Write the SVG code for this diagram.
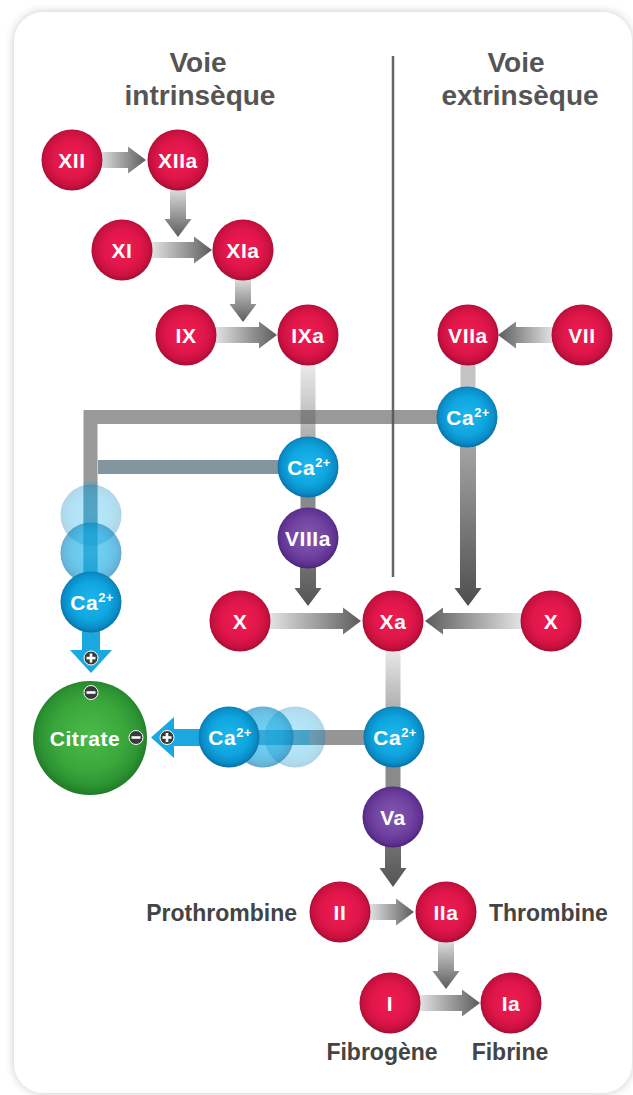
<svg xmlns="http://www.w3.org/2000/svg" width="633" height="1095" viewBox="0 0 633 1095">
  <style>
    .lbl { font-family: "Liberation Sans", Arial, sans-serif; font-weight: bold; font-size: 21px; fill: #ffffff; text-anchor: middle; letter-spacing: 0.6px; }
    .sup { font-size: 13px; letter-spacing: 0.3px; }
    .cap { font-family: "Liberation Sans", Arial, sans-serif; font-weight: bold; font-size: 23px; fill: #444444; }
    .title { font-family: "Liberation Sans", Arial, sans-serif; font-weight: bold; font-size: 28px; fill: #555555; text-anchor: middle; }
    .red { fill: url(#gRed); }
    .blue { fill: url(#gBlue); }
    .purple { fill: url(#gPurple); }
    .badge { fill: #3a3a3a; stroke: #ffffff; stroke-width: 1; }
    .sign { fill: #ffffff; }
  </style>
  <defs>
    <filter id="cardShadow" x="-10%" y="-10%" width="120%" height="120%">
      <feDropShadow dx="0" dy="0" stdDeviation="5" flood-color="#000000" flood-opacity="0.22"/>
    </filter>
    <radialGradient id="gRed" cx="50%" cy="48%" r="52%">
      <stop offset="0" stop-color="#ee1c4f"/>
      <stop offset="0.6" stop-color="#e0164a"/>
      <stop offset="0.86" stop-color="#c8113f"/>
      <stop offset="1" stop-color="#a30d33"/>
    </radialGradient>
    <radialGradient id="gBlue" cx="50%" cy="48%" r="52%">
      <stop offset="0" stop-color="#20b6ec"/>
      <stop offset="0.6" stop-color="#0ea6e0"/>
      <stop offset="0.86" stop-color="#0a8dc7"/>
      <stop offset="1" stop-color="#0870a4"/>
    </radialGradient>
    <radialGradient id="gPurple" cx="50%" cy="48%" r="52%">
      <stop offset="0" stop-color="#8458ae"/>
      <stop offset="0.6" stop-color="#7043a1"/>
      <stop offset="0.86" stop-color="#603393"/>
      <stop offset="1" stop-color="#4b2378"/>
    </radialGradient>
    <radialGradient id="gGreen" cx="50%" cy="48%" r="52%">
      <stop offset="0" stop-color="#4cba4a"/>
      <stop offset="0.6" stop-color="#3aa73c"/>
      <stop offset="0.86" stop-color="#2c9232"/>
      <stop offset="1" stop-color="#1f7a28"/>
    </radialGradient>
    <!-- arrow fills: light at the source, dark at the head -->
    <linearGradient id="aRight" x1="0" y1="0" x2="1" y2="0">
      <stop offset="0" stop-color="#e6e6e6"/>
      <stop offset="1" stop-color="#5c5c5c"/>
    </linearGradient>
    <linearGradient id="aLeft" x1="1" y1="0" x2="0" y2="0">
      <stop offset="0" stop-color="#e6e6e6"/>
      <stop offset="1" stop-color="#5c5c5c"/>
    </linearGradient>
    <linearGradient id="aDown" x1="0" y1="0" x2="0" y2="1">
      <stop offset="0" stop-color="#e0e0e0"/>
      <stop offset="1" stop-color="#5c5c5c"/>
    </linearGradient>
    <linearGradient id="aDownDark" x1="0" y1="0" x2="0" y2="1">
      <stop offset="0" stop-color="#707070"/>
      <stop offset="1" stop-color="#545454"/>
    </linearGradient>
    <linearGradient id="aDownMid" x1="0" y1="0" x2="0" y2="1">
      <stop offset="0" stop-color="#a4a4a4"/>
      <stop offset="1" stop-color="#4e4e4e"/>
    </linearGradient>
    <linearGradient id="barLight" x1="0" y1="0" x2="0" y2="1">
      <stop offset="0" stop-color="#eeeeee"/>
      <stop offset="1" stop-color="#a8a8a8"/>
    </linearGradient>
    <linearGradient id="cyanFade" x1="0" y1="0" x2="0" y2="1">
      <stop offset="0" stop-color="#1ba7e0" stop-opacity="0.25"/>
      <stop offset="1" stop-color="#1ba7e0" stop-opacity="0.85"/>
    </linearGradient>
  </defs>

  <!-- card -->
  <rect x="0" y="0" width="633" height="1095" fill="#ffffff"/>
  <rect x="14" y="12" width="618" height="1081" rx="30" ry="30" fill="#ffffff" filter="url(#cardShadow)"/>

  <!-- headings -->
  <g id="titles">
    <text class="title" x="198" y="72">Voie</text>
    <text class="title" x="200" y="105">intrinsèque</text>
    <text class="title" x="516" y="72">Voie</text>
    <text class="title" x="520" y="105">extrinsèque</text>
  </g>

  <line id="divider" x1="393" y1="56" x2="393" y2="577" stroke="#666666" stroke-width="2.5"/>

  <g id="connectors">
    <!-- plain links between factors and cofactors -->
    <rect x="300.5" y="360" width="15" height="85" fill="url(#barLight)"/>
    <rect x="300.5" y="490" width="15" height="25" fill="#8a8a8a"/>
    <rect x="460.5" y="360" width="15" height="35" fill="#c4c4c4"/>
    <rect x="385.5" y="645" width="15" height="70" fill="url(#barLight)"/>
    <rect x="385.5" y="760" width="15" height="35" fill="#8a8a8a"/>

    <!-- calcium links towards citrate -->
    <rect x="98" y="460" width="210" height="14" fill="#8396a0"/>
    <path d="M467,417 H90.5 V600" fill="none" stroke="#555555" stroke-opacity="0.6" stroke-width="14"/>
    <rect x="83.5" y="482" width="14" height="120" fill="url(#cyanFade)"/>
    <rect x="229" y="730" width="165" height="15" fill="#959595"/>
    <rect x="229" y="730" width="80" height="15" fill="#1ba7e0" fill-opacity="0.45"/>
    <path d="M82,625 V650 H70 L91,673 L112,650 H100 V625 Z" fill="#1ba7e0"/>
    <path d="M229,729 H174 V717 L151,737.5 L174,758 V746 H229 Z" fill="#1ba7e0"/>

    <!-- activation arrows -->
    <path d="M98,152 H128 V146.5 L146,160 L128,173.5 V168 H98 Z" fill="url(#aRight)"/>
    <path d="M170,188 V219 H164.5 L178,237 L191.5,219 H186 V188 Z" fill="url(#aDown)"/>
    <path d="M150,242 H194 V236.5 L212,250 L194,263.5 V258 H150 Z" fill="url(#aRight)"/>
    <path d="M235,278 V304 H229.5 L243,322 L256.5,304 H251 V278 Z" fill="url(#aDown)"/>
    <path d="M214,327 H259 V321.5 L277,335 L259,348.5 V343 H214 Z" fill="url(#aRight)"/>
    <path d="M554,327 H516 V321.5 L498,335 L516,348.5 V343 H554 Z" fill="url(#aLeft)"/>
    <path d="M300,566 V588 H294.5 L308,606 L321.5,588 H316 V566 Z" fill="url(#aDownDark)"/>
    <path d="M460,446 V588 H454.5 L468,606 L481.5,588 H476 V446 Z" fill="url(#aDownMid)"/>
    <path d="M268,613 H343 V607.5 L361,621 L343,634.5 V629 H268 Z" fill="url(#aRight)"/>
    <path d="M523,613 H443 V607.5 L425,621 L443,634.5 V629 H523 Z" fill="url(#aLeft)"/>
    <path d="M385,846 V868 H379.5 L393,887 L406.5,868 H401 V846 Z" fill="url(#aDownDark)"/>
    <path d="M368,904 H396 V898.5 L414,912 L396,925.5 V920 H368 Z" fill="url(#aRight)"/>
    <path d="M438,940 V971 H432.5 L446,989 L459.5,971 H454 V940 Z" fill="url(#aDown)"/>
    <path d="M418,995 H462 V989.5 L480,1003 L462,1016.5 V1011 H418 Z" fill="url(#aRight)"/>
  </g>

  <!-- calcium ions drifting towards citrate -->
  <g id="ca-trail-left">
    <circle cx="91" cy="515" r="30.5" class="blue" opacity="0.32"/>
    <circle cx="91" cy="553" r="30.5" class="blue" opacity="0.62"/>
  </g>
  <g id="ca-trail-bottom">
    <circle cx="295" cy="737" r="30.5" class="blue" opacity="0.32"/>
    <circle cx="263" cy="737" r="30.5" class="blue" opacity="0.62"/>
  </g>

  <g id="XII"><circle cx="72" cy="160" r="30.5" class="red"/><text class="lbl" x="72" y="168">XII</text></g>
  <g id="XIIa"><circle cx="178" cy="160" r="30.5" class="red"/><text class="lbl" x="178" y="168">XIIa</text></g>
  <g id="XI"><circle cx="122" cy="250" r="30.5" class="red"/><text class="lbl" x="122" y="258">XI</text></g>
  <g id="XIa"><circle cx="243" cy="250" r="30.5" class="red"/><text class="lbl" x="243" y="258">XIa</text></g>
  <g id="IX"><circle cx="186" cy="335" r="30.5" class="red"/><text class="lbl" x="186" y="343">IX</text></g>
  <g id="IXa"><circle cx="308" cy="335" r="30.5" class="red"/><text class="lbl" x="308" y="343">IXa</text></g>
  <g id="VIIa"><circle cx="468" cy="335" r="30.5" class="red"/><text class="lbl" x="468" y="343">VIIa</text></g>
  <g id="VII"><circle cx="582" cy="335" r="30.5" class="red"/><text class="lbl" x="582" y="343">VII</text></g>
  <g id="ca-extrinsic"><circle cx="467" cy="417" r="30.5" class="blue"/><text class="lbl" x="468" y="425">Ca<tspan class="sup" dy="-8">2+</tspan></text></g>
  <g id="ca-intrinsic"><circle cx="308" cy="467" r="30.5" class="blue"/><text class="lbl" x="309" y="475">Ca<tspan class="sup" dy="-8">2+</tspan></text></g>
  <g id="VIIIa"><circle cx="308" cy="538" r="30.5" class="purple"/><text class="lbl" x="308" y="546">VIIIa</text></g>
  <g id="X-intrinsic"><circle cx="240" cy="621" r="30.5" class="red"/><text class="lbl" x="240" y="629">X</text></g>
  <g id="Xa"><circle cx="393" cy="621" r="30.5" class="red"/><text class="lbl" x="393" y="629">Xa</text></g>
  <g id="X-extrinsic"><circle cx="551" cy="621" r="30.5" class="red"/><text class="lbl" x="551" y="629">X</text></g>
  <g id="ca-bound-left"><circle cx="91" cy="602" r="30.5" class="blue"/><text class="lbl" x="92" y="610">Ca<tspan class="sup" dy="-8">2+</tspan></text></g>
  <g id="citrate"><circle cx="90" cy="738" r="57" fill="url(#gGreen)"/><text class="lbl" x="85" y="746">Citrate</text></g>
  <g id="ca-bound-bottom"><circle cx="229" cy="737" r="30.5" class="blue"/><text class="lbl" x="230" y="745">Ca<tspan class="sup" dy="-8">2+</tspan></text></g>
  <g id="ca-common"><circle cx="394" cy="737" r="30.5" class="blue"/><text class="lbl" x="395" y="745">Ca<tspan class="sup" dy="-8">2+</tspan></text></g>
  <g id="Va"><circle cx="393" cy="817" r="30.5" class="purple"/><text class="lbl" x="393" y="825">Va</text></g>
  <g id="II"><circle cx="340" cy="912" r="30.5" class="red"/><text class="lbl" x="340" y="920">II</text><text class="cap" x="297" y="921" text-anchor="end">Prothrombine</text></g>
  <g id="IIa"><circle cx="446" cy="912" r="30.5" class="red"/><text class="lbl" x="446" y="920">IIa</text><text class="cap" x="489" y="921">Thrombine</text></g>
  <g id="I"><circle cx="390" cy="1003" r="30.5" class="red"/><text class="lbl" x="390" y="1011">I</text><text class="cap" x="382" y="1060" text-anchor="middle">Fibrogène</text></g>
  <g id="Ia"><circle cx="511" cy="1003" r="30.5" class="red"/><text class="lbl" x="511" y="1011">Ia</text><text class="cap" x="510" y="1060" text-anchor="middle">Fibrine</text></g>

  <!-- charge badges -->
  <g id="charges">
    <circle cx="91" cy="658" r="7" class="badge"/>
    <rect x="86.5" y="656.8" width="9" height="2.6" class="sign"/>
    <rect x="89.7" y="653.5" width="2.6" height="9" class="sign"/>
    <circle cx="167" cy="737.5" r="7" class="badge"/>
    <rect x="162.5" y="736.2" width="9" height="2.6" class="sign"/>
    <rect x="165.7" y="733" width="2.6" height="9" class="sign"/>
    <circle cx="91" cy="692.5" r="7" class="badge"/>
    <rect x="86.5" y="691.2" width="9" height="2.6" class="sign"/>
    <circle cx="136" cy="737.5" r="7" class="badge"/>
    <rect x="131.5" y="736.2" width="9" height="2.6" class="sign"/>
  </g>
</svg>
